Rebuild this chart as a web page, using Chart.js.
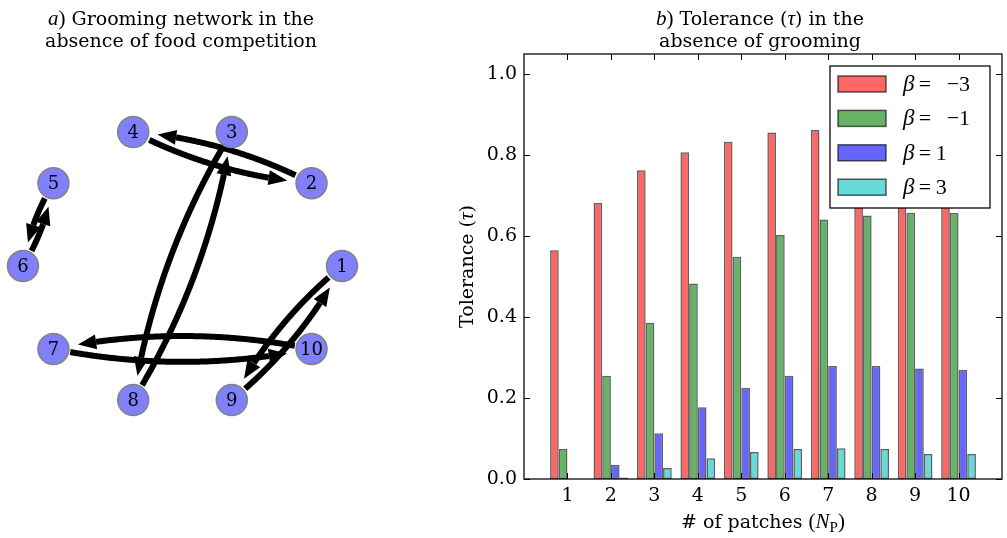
<!DOCTYPE html>
<html>
<head>
<meta charset="utf-8">
<script src="https://cdn.jsdelivr.net/npm/chart.js@4.4.0/dist/chart.umd.min.js"></script>
<style>
  body { margin: 0; background: #fff; }
  #wrap { position: relative; width: 1007px; height: 538px; }
  .panel { position: absolute; top: 0; height: 538px; }
  #net-box { left: 0; width: 365px; }
  #bar-box { left: 380px; width: 627px; }
</style>
</head>
<body>
<div id="wrap">
  <div class="panel" id="net-box"><canvas id="net"></canvas></div>
  <div class="panel" id="bar-box"><canvas id="bars"></canvas></div>
</div>
<script>
// grooming network, circular layout (node k sits at index k-1)
const nodeIds = [1, 2, 3, 4, 5, 6, 7, 8, 9, 10];
const nodeX = [1, 0.809, 0.309, -0.309, -0.809, -1, -0.809, -0.309, 0.309, 0.809];
const nodeY = [0, 0.588, 0.951, 0.951, 0.588, 0, -0.588, -0.951, -0.951, -0.588];
// directed grooming edges
const edgeFrom = [2, 4, 3, 8, 5, 6, 1, 9, 7, 10];
const edgeTo   = [4, 2, 8, 3, 6, 5, 9, 1, 10, 7];

// tolerance per number of patches, one list per beta
const patches = [1, 2, 3, 4, 5, 6, 7, 8, 9, 10];
const betaLabels = ['\u22123', '\u22121', '1', '3'];
const tolBetaM3 = [0.565, 0.682, 0.763, 0.807, 0.833, 0.856, 0.862, 0.864, 0.866, 0.867];
const tolBetaM1 = [0.074, 0.255, 0.386, 0.483, 0.549, 0.603, 0.641, 0.651, 0.658, 0.657];
const tolBeta1  = [0, 0.035, 0.113, 0.177, 0.225, 0.255, 0.279, 0.279, 0.273, 0.269];
const tolBeta3  = [0, 0.004, 0.027, 0.051, 0.067, 0.074, 0.076, 0.074, 0.062, 0.062];
const yTicks = [0, 0.2, 0.4, 0.6, 0.8, 1.0];

const TEXT = '19px "DejaVu Serif"';
const MATH = '21px "Liberation Serif"';
const MATH_IT = 'italic 21px "Liberation Serif"';

// draws a row of differently styled pieces, centred on cx, baseline at y
function drawRich(ctx, segs, cx, y) {
  let w = 0;
  segs.forEach(s => { ctx.font = s.font; s.w = ctx.measureText(s.text).width; w += s.w; });
  let x = cx - w / 2;
  ctx.textAlign = 'left';
  ctx.textBaseline = 'alphabetic';
  segs.forEach(s => { ctx.font = s.font; ctx.fillText(s.text, x, y + (s.dy || 0)); x += s.w; });
}

const titlePlugin = {
  id: 'richTitle',
  afterDraw(chart, args, opts) {
    const {ctx} = chart;
    ctx.save();
    ctx.fillStyle = '#000';
    opts.lines.forEach((segs, i) => drawRich(ctx, segs, opts.cx, opts.baselines[i]));
    ctx.restore();
  }
};

// curved arrows between nodes, bent like an arc3 connection (rad 0.1)
const edgePlugin = {
  id: 'edges',
  beforeDatasetsDraw(chart) {
    const {ctx, scales: {x, y}} = chart;
    const pos = id => ({ x: x.getPixelForValue(nodeX[id - 1]), y: y.getPixelForValue(nodeY[id - 1]) });
    const dist = (p, q) => Math.hypot(p.x - q.x, p.y - q.y);
    const shrinkA = 17, shrinkB = 24, headLen = 18, headHalf = 7.5;
    ctx.save();
    ctx.strokeStyle = '#000';
    ctx.fillStyle = '#000';
    ctx.lineWidth = 6;
    ctx.lineCap = 'butt';
    ctx.lineJoin = 'round';
    edgeFrom.forEach((from, i) => {
      const a = pos(from), b = pos(edgeTo[i]);
      const dx = b.x - a.x, dy = b.y - a.y;
      const c = { x: (a.x + b.x) / 2 - 0.1 * dy, y: (a.y + b.y) / 2 + 0.1 * dx };
      const N = 200, pts = [];
      for (let k = 0; k <= N; k++) {
        const t = k / N, u = 1 - t;
        pts.push({ x: u * u * a.x + 2 * u * t * c.x + t * t * b.x,
                   y: u * u * a.y + 2 * u * t * c.y + t * t * b.y });
      }
      const s = pts.findIndex(p => dist(p, a) >= shrinkA);
      let e = N;
      while (e > 0 && dist(pts[e], b) < shrinkB) e--;
      const tip = pts[e];
      let m = e;
      while (m > s && dist(pts[m], tip) < headLen) m--;
      const base = pts[m];
      ctx.beginPath();
      ctx.moveTo(pts[s].x, pts[s].y);
      for (let k = s + 1; k <= m; k++) ctx.lineTo(pts[k].x, pts[k].y);
      ctx.stroke();
      const L = dist(tip, base), ux = (tip.x - base.x) / L, uy = (tip.y - base.y) / L;
      ctx.beginPath();
      ctx.moveTo(tip.x, tip.y);
      ctx.lineTo(base.x - uy * headHalf, base.y + ux * headHalf);
      ctx.lineTo(base.x + uy * headHalf, base.y - ux * headHalf);
      ctx.closePath();
      ctx.fill();
    });
    ctx.restore();
  },
  afterDatasetsDraw(chart) {
    const {ctx, scales: {x, y}} = chart;
    ctx.save();
    ctx.fillStyle = '#000';
    ctx.font = '18px "DejaVu Serif"';
    ctx.textAlign = 'center';
    ctx.textBaseline = 'middle';
    nodeIds.forEach((id, i) => ctx.fillText(String(id), x.getPixelForValue(nodeX[i]), y.getPixelForValue(nodeY[i]) + 1));
    ctx.restore();
  }
};

new Chart(document.getElementById('net'), {
  type: 'scatter',
  data: {
    datasets: [{
      data: nodeX.map((v, i) => ({ x: v, y: nodeY[i] })),
      pointRadius: 15.5,
      backgroundColor: 'rgb(128,128,250)',
      borderColor: 'rgb(130,130,130)',
      borderWidth: 1.5,
      clip: false
    }]
  },
  options: {
    responsive: true,
    maintainAspectRatio: false,
    animation: false,
    events: [],
    layout: { autoPadding: false, padding: { top: 54, left: 0, right: 0, bottom: 0 } },
    scales: {
      x: { type: 'linear', display: false, min: -1.144, max: 1.144 },
      y: { type: 'linear', display: false, min: -1.929, max: 1.504 }
    },
    plugins: {
      legend: { display: false },
      tooltip: { enabled: false },
      richTitle: {
        cx: 181,
        baselines: [25, 47],
        lines: [
          [{ text: 'a', font: MATH_IT }, { text: ')', font: MATH }, { text: ' Grooming network in the', font: TEXT }],
          [{ text: 'absence of food competition', font: TEXT }]
        ]
      }
    }
  },
  plugins: [edgePlugin, titlePlugin]
});

// frame with inward ticks on all four sides, axis titles and the legend box
const framePlugin = {
  id: 'frame',
  afterDraw(chart) {
    const {ctx, chartArea: a, scales: {x, y}} = chart;
    ctx.save();
    ctx.strokeStyle = '#000';
    ctx.lineWidth = 1.25;
    ctx.strokeRect(a.left, a.top, a.right - a.left, a.bottom - a.top);
    ctx.lineWidth = 1;
    ctx.beginPath();
    x.ticks.forEach(t => {
      const p = Math.round(x.getPixelForValue(t.value)) + 0.5;
      ctx.moveTo(p, a.bottom); ctx.lineTo(p, a.bottom - 6);
      ctx.moveTo(p, a.top); ctx.lineTo(p, a.top + 6);
    });
    y.ticks.forEach(t => {
      const p = Math.round(y.getPixelForValue(t.value)) + 0.5;
      ctx.moveTo(a.left, p); ctx.lineTo(a.left + 6, p);
      ctx.moveTo(a.right, p); ctx.lineTo(a.right - 6, p);
    });
    ctx.stroke();

    // axis titles
    ctx.fillStyle = '#000';
    drawRich(ctx, [
      { text: '# of patches ', font: TEXT },
      { text: '(', font: MATH },
      { text: 'N', font: MATH_IT },
      { text: 'P', font: '15px "Liberation Serif"', dy: 4 },
      { text: ')', font: MATH }
    ], (a.left + a.right) / 2, a.bottom + 49);
    ctx.save();
    ctx.translate(a.left - 51, (a.top + a.bottom) / 2);
    ctx.rotate(-Math.PI / 2);
    drawRich(ctx, [
      { text: 'Tolerance (', font: TEXT },
      { text: '\u03c4', font: MATH_IT },
      { text: ')', font: TEXT }
    ], 0, 0);
    ctx.restore();

    // legend
    const bw = 160, bh = 142;
    const bx = a.right - 12 - bw, by = a.top + 12;
    ctx.fillStyle = '#fff';
    ctx.fillRect(bx, by, bw, bh);
    ctx.strokeStyle = '#000';
    ctx.lineWidth = 1.25;
    ctx.strokeRect(bx, by, bw, bh);
    chart.data.datasets.forEach((ds, i) => {
      const cy = by + 18 + i * 34.4;
      ctx.fillStyle = ds.backgroundColor;
      ctx.fillRect(bx + 8, cy - 8, 48, 16);
      ctx.strokeStyle = ds.borderColor;
      ctx.lineWidth = 1.5;
      ctx.strokeRect(bx + 8, cy - 8, 48, 16);
      ctx.fillStyle = '#000';
      const lab = betaLabels[i];
      const segs = [
        { text: '\u03b2', font: 'italic 23px "Liberation Serif"' },
        { text: '\u2009=\u2009' + (lab.startsWith('\u2212') ? '\u2002' : '') + lab, font: '22px "Liberation Serif"' }
      ];
      let w = 0;
      segs.forEach(s => { ctx.font = s.font; w += ctx.measureText(s.text).width; });
      drawRich(ctx, segs, bx + 73 + w / 2, cy + 7);
    });
    ctx.restore();
  }
};

const barStyle = [
  { bg: 'rgba(255,0,0,0.6)' },
  { bg: 'rgba(0,128,0,0.6)' },
  { bg: 'rgba(0,0,255,0.6)' },
  { bg: 'rgba(0,191,191,0.6)' }
];
const series = [tolBetaM3, tolBetaM1, tolBeta1, tolBeta3];

new Chart(document.getElementById('bars'), {
  type: 'bar',
  data: {
    datasets: series.map((vals, i) => ({
      label: '\u03b2 = ' + betaLabels[i],
      data: patches.map((p, j) => ({ x: p, y: vals[j] })),
      backgroundColor: barStyle[i].bg,
      borderColor: 'rgba(0,0,0,0.62)',
      borderWidth: 1.5,
      borderSkipped: false,
      categoryPercentage: 0.8,
      barPercentage: 1.0
    }))
  },
  options: {
    responsive: true,
    maintainAspectRatio: false,
    animation: false,
    events: [],
    layout: { padding: { top: 54, right: 5, left: 0, bottom: 0 } },
    scales: {
      x: {
        type: 'linear',
        min: 0,
        max: 11,
        offset: false,
        grid: { display: false, drawTicks: false, tickLength: 0 },
        border: { display: false },
        afterBuildTicks: s => { s.ticks = patches.map(v => ({ value: v })); },
        afterFit: s => { s.height = 59; },
        ticks: {
          font: { family: 'DejaVu Serif', size: 19 },
          color: '#000',
          padding: 6,
          maxRotation: 0,
          callback: v => String(v)
        }
      },
      y: {
        type: 'linear',
        min: 0,
        max: 1.05,
        grid: { display: false, drawTicks: false, tickLength: 0 },
        border: { display: false },
        afterBuildTicks: s => { s.ticks = yTicks.map(v => ({ value: v })); },
        afterFit: s => { s.width = 144; },
        ticks: {
          font: { family: 'DejaVu Serif', size: 19 },
          color: '#000',
          padding: 7,
          callback: v => v.toFixed(1)
        }
      }
    },
    plugins: {
      legend: { display: false },
      tooltip: { enabled: false },
      richTitle: {
        cx: 380,
        baselines: [25, 47],
        lines: [
          [{ text: 'b', font: MATH_IT }, { text: ')', font: MATH }, { text: ' Tolerance (', font: TEXT },
           { text: '\u03c4', font: MATH_IT }, { text: ') in the', font: TEXT }],
          [{ text: 'absence of grooming', font: TEXT }]
        ]
      }
    }
  },
  plugins: [framePlugin, titlePlugin]
});
</script>
</body>
</html>
